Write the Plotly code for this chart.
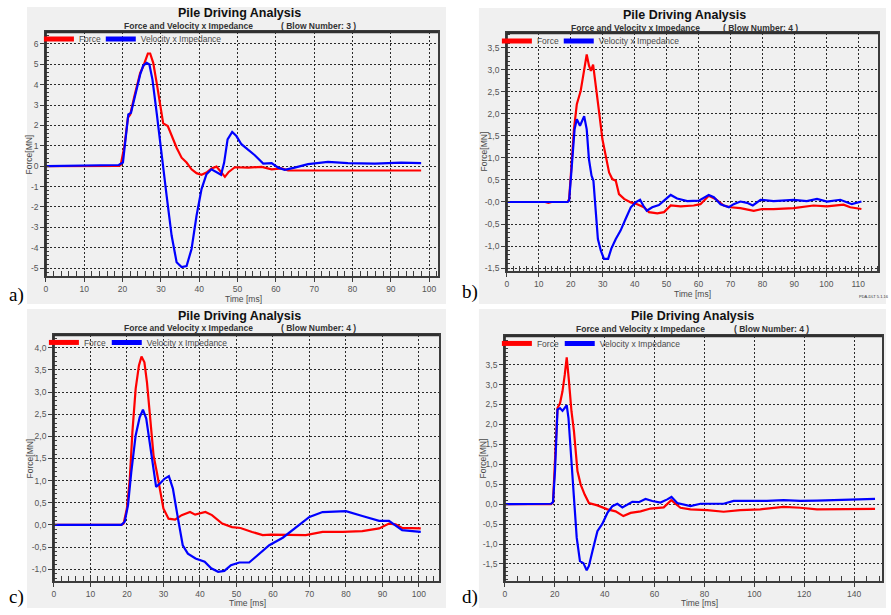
import plotly.graph_objects as go

W, H = 891, 615

# ---------------- data ----------------
# a) Blow number 3
a_t_force = [0, 10, 19, 19.5, 20.5, 21.4, 22.0, 23.1, 24.6, 25.4,
             26.6, 27.2, 28.0, 28.9, 29.8, 30.6, 31.8, 32.8, 34.1, 35.4,
             36.7, 38.0, 39.3, 40.6, 41.9, 43.2, 44.5, 45.8, 46.7, 47.7,
             49.3, 52.8, 56.3, 58.9, 61.5, 63.2, 70, 80, 90, 97.9]
a_force = [0, 0, 0.02, 0.05, 1.0, 2.38, 2.54, 3.44, 4.58, 4.9,
           5.53, 5.53, 5.07, 4.09, 2.95, 2.1, 1.97, 1.48, 0.91, 0.42,
           0.18, -0.15, -0.34, -0.42, -0.31, -0.11, -0.02, -0.31, -0.52, -0.28,
           -0.05, -0.07, -0.03, -0.15, -0.11, -0.2, -0.2, -0.22, -0.22, -0.21]
a_t_vel = [0, 10, 15, 19, 20.1, 20.7, 21.5, 22.2, 23.3, 24.6,
           25.4, 26.3, 27.0, 27.8, 28.9, 30.2, 31.5, 32.8, 34.1, 35.4,
           36.7, 38.0, 39.3, 40.6, 41.9, 43.2, 44.5, 45.7, 46.5, 47.4,
           48.6, 49.7, 51.0, 52.8, 54.5, 56.7, 58.9, 60.6, 62.3, 64.9,
           68.4, 73.6, 78.8, 85.8, 92.7, 97.9]
a_vel = [0, 0.02, 0.05, 0.06, 0.18, 1.3, 2.54, 2.62, 3.44, 4.5,
         4.94, 5.07, 4.99, 4.25, 2.62, 0.5, -1.45, -3.4, -4.71, -4.95,
         -4.9, -4.06, -2.43, -1.12, -0.39, -0.15, -0.28, -0.42, 0.18, 1.32,
         1.68, 1.48, 1.08, 0.8, 0.54, 0.13, 0.15, -0.07, -0.18, -0.07,
         0.1, 0.21, 0.15, 0.13, 0.18, 0.15]
a_xticks = [0, 10, 20, 30, 40, 50, 60, 70, 80, 90, 100]
a_yticks = [-5, -4, -3, -2, -1, 0, 1, 2, 3, 4, 5, 6]
a_yticktext = ["-5", "-4", "-3", "-2", "-1", "0", "1", "2", "3", "4", "5", "6"]

# b) Blow number 4
b_t_force = [0, 12, 13, 14, 19, 19.5, 20.3, 21.0, 21.9, 23.1,
             24.2, 25.0, 25.7, 26.3, 27.0, 27.8, 28.9, 29.9, 30.9, 32.0,
             33.0, 34.1, 35.1, 36.7, 38.8, 40.8, 42.9, 44.5, 47.1, 49.2,
             51.3, 54.4, 58.5, 60.6, 63.2, 65.3, 67.9, 70.0, 73.1, 77.3,
             79.9, 83.5, 89.8, 96.0, 100.2, 105.4, 107.5, 111]
b_force = [0, 0, -0.02, 0, 0, 0.07, 0.9, 1.65, 2.22, 2.52,
           3.0, 3.35, 3.1, 2.98, 3.12, 2.71, 2.03, 1.43, 1.05, 0.67,
           0.52, 0.48, 0.18, 0.07, -0.01, -0.05, -0.12, -0.23, -0.26, -0.23,
           -0.08, -0.1, -0.08, -0.05, 0.14, 0.07, -0.08, -0.12, -0.14, -0.2,
           -0.16, -0.16, -0.14, -0.08, -0.1, -0.06, -0.12, -0.16]
b_t_vel = [0, 19, 19.5, 20.5, 21.2, 21.9, 22.9, 24.2, 25.0, 25.7,
           26.5, 27.1, 27.8, 28.5, 29.4, 30.4, 31.7, 32.7, 34.1, 35.6,
           37.2, 38.8, 40.3, 41.7, 42.7, 43.8, 45.5, 47.6, 49.2, 51.3,
           53.3, 56.5, 60.1, 63.2, 64.8, 66.9, 69.5, 71.0, 73.1, 75.2,
           77.0, 79.4, 83.5, 89.8, 93.9, 97.1, 100.2, 104.4, 108.0, 111]
b_vel = [0, 0, 0.03, 0.9, 1.65, 1.88, 1.73, 1.95, 1.65, 0.97,
         0.6, 0.48, -0.16, -0.84, -1.1, -1.29, -1.29, -1.06, -0.84, -0.65,
         -0.38, -0.12, -0.01, 0.05, -0.08, -0.2, -0.12, -0.07, 0.03, 0.16,
         0.08, 0.02, 0.03, 0.16, 0.11, -0.05, -0.12, -0.05, 0.01, -0.02,
         -0.08, 0.05, 0.02, 0.05, 0.02, 0.07, 0.01, 0.05, -0.05, 0.01]
b_xticks = [0, 10, 20, 30, 40, 50, 60, 70, 80, 90, 100, 110]
b_yticks = [-1.5, -1.0, -0.5, 0.0, 0.5, 1.0, 1.5, 2.0, 2.5, 3.0, 3.5]
b_yticktext = ["-1,5", "-1,0", "-0,5", "-0,0", "0,5", "1,0", "1,5", "2,0", "2,5", "3,0", "3,5"]

# c) Blow number 4
c_t_force = [0, 18.5, 19.1, 20.0, 20.8, 21.5, 22.4, 23.3, 24.0, 24.8,
             25.5, 26.4, 27.3, 28.2, 29.1, 30.0, 31.4, 33.2, 35.0, 37.3,
             38.7, 41.5, 43.3, 46.1, 48.8, 51.1, 54.3, 57.2, 59.5, 62.7,
             66.3, 69.0, 73.6, 79.1, 84.5, 89.1, 91.8, 93.6, 95.4, 97.7,
             100.5]
c_force = [0, 0, 0.03, 0.37, 1.04, 2.09, 3.07, 3.6, 3.8, 3.67,
           3.22, 2.39, 1.57, 1.19, 0.82, 0.37, 0.14, 0.12, 0.22, 0.29,
           0.23, 0.29, 0.22, 0.03, -0.05, -0.07, -0.16, -0.23, -0.22, -0.22,
           -0.23, -0.23, -0.16, -0.16, -0.14, -0.08, 0.03, 0.01, -0.07, -0.07,
           -0.08]
c_t_vel = [0, 18.5, 19.4, 20.3, 21.2, 22.4, 23.5, 24.4, 25.3, 26.2,
           27.1, 28.0, 29.0, 30.3, 31.5, 32.6, 34.0, 35.3, 36.7, 38.8,
           41.3, 43.1, 45.0, 46.7, 48.5, 50.8, 53.5, 56.3, 59.0, 62.7,
           66.3, 70.0, 73.6, 77.2, 80.0, 84.5, 89.1, 91.8, 93.6, 95.4,
           98.2, 100.5]
c_vel = [0, 0, 0.07, 0.44, 1.19, 2.02, 2.43, 2.6, 2.4, 1.87,
         1.27, 0.86, 0.93, 1.04, 1.1, 0.82, 0.14, -0.46, -0.65, -0.76,
         -0.83, -0.98, -1.06, -1.04, -0.91, -0.85, -0.85, -0.65, -0.46, -0.29,
         -0.05, 0.18, 0.29, 0.31, 0.31, 0.2, 0.09, 0.09, -0.01, -0.12,
         -0.14, -0.16]
c_xticks = [0, 10, 20, 30, 40, 50, 60, 70, 80, 90, 100]
c_yticks = [-1.0, -0.5, 0.0, 0.5, 1.0, 1.5, 2.0, 2.5, 3.0, 3.5, 4.0]
c_yticktext = ["-1,0", "-0,5", "0,0", "0,5", "1,0", "1,5", "2,0", "2,5", "3,0", "3,5", "4,0"]

# d) Blow number 4
d_t_force = [0, 18.5, 19.3, 20.1, 21.1, 22.1, 23.1, 24.0, 24.8, 25.7,
             26.7, 27.7, 29.1, 30.4, 32.0, 33.7, 37.1, 41.1, 44.4, 47.5,
             50.4, 54.4, 58.4, 63.7, 66.7, 70.4, 74.4, 81.1, 87.7, 94.4,
             102.4, 111.7, 118.4, 125.1, 138.4, 148.4]
d_force = [0, 0, 0.05, 0.99, 2.41, 2.53, 2.83, 3.24, 3.68, 3.08,
           2.33, 1.83, 0.83, 0.49, 0.24, 0.03, -0.03, -0.13, -0.18, -0.3,
           -0.22, -0.18, -0.11, -0.08, 0.1, -0.09, -0.13, -0.15, -0.19, -0.15,
           -0.13, -0.07, -0.09, -0.13, -0.12, -0.12]
d_t_vel = [0, 18.5, 19.3, 20.1, 21.1, 22.1, 23.1, 24.0, 24.8, 25.5,
           26.4, 27.7, 28.8, 30.1, 31.5, 32.8, 33.7, 35.1, 37.1, 39.1,
           41.1, 43.1, 45.1, 47.1, 49.1, 51.1, 53.7, 56.4, 59.1, 62.4,
           65.1, 66.8, 69.1, 72.4, 74.4, 78.4, 83.7, 87.7, 91.7, 105.1,
           111.7, 118.4, 125.1, 138.4, 148.4]
d_vel = [0, 0.01, 0.05, 0.83, 2.37, 2.41, 2.34, 2.42, 2.48, 2.16,
         1.33, 0.16, -0.84, -1.43, -1.48, -1.66, -1.55, -1.18, -0.68, -0.49,
         -0.22, -0.05, 0.01, -0.08, -0.01, 0.06, 0.05, 0.13, 0.08, 0.04,
         0.12, 0.18, 0.03, -0.03, -0.05, 0.01, 0.02, 0.01, 0.08, 0.08,
         0.1, 0.08, 0.09, 0.12, 0.13]
d_xticks = [0, 20, 40, 60, 80, 100, 120, 140]
d_yticks = [-1.5, -1.0, -0.5, 0.0, 0.5, 1.0, 1.5, 2.0, 2.5, 3.0, 3.5]
d_yticktext = ["-1,5", "-1,0", "-0,5", "0,0", "0,5", "1,0", "1,5", "2,0", "2,5", "3,0", "3,5"]

title_text = "Pile Driving Analysis"
subtitle_text = "Force and Velocity x Impedance"
blow_numbers = [3, 4, 4, 4]
series_names = ["Force", "Velocity x Impedance"]
x_title = "Time [ms]"
y_title = "Force[MN]"
panel_letters = ["a)", "b)", "c)", "d)"]

# ---------------- layout geometry (pixels) ----------------
panels = [
    dict(plot=(44, 32, 437, 277), bg=(25, 7, 445, 305), xr=[0, 102.3], yr=[-5.39, 6.59],
         xt=a_xticks, yt=a_yticks, ytt=a_yticktext, xminor=2, yminor=0.2,
         data=(a_t_force, a_force, a_t_vel, a_vel),
         title=(238, 13), subl=(187, 26), subr=(317, 26), xl=(242, 300), yl=(28, 155), letter=(15, 296),
         leg=((37, 24.5), (99, 24.5))),
    dict(plot=(506, 33, 878, 272), bg=(478, 8, 886, 305), xr=[0, 116.2], yr=[-1.57, 3.84],
         xt=b_xticks, yt=b_yticks, ytt=b_yticktext, xminor=2, yminor=0.1,
         data=(b_t_force, b_force, b_t_vel, b_vel),
         title=(684, 15), subl=(635, 28), subr=(760, 28), xl=(692, 295), yl=(483, 152), letter=(469, 293),
         leg=((496, 26.7), (558, 26.7))),
    dict(plot=(52, 336, 438, 583), bg=(25, 310, 445, 610), xr=[0, 105.5], yr=[-1.27, 4.29],
         xt=c_xticks, yt=c_yticks, ytt=c_yticktext, xminor=2, yminor=0.1,
         data=(c_t_force, c_force, c_t_vel, c_vel),
         title=(238, 317), subl=(187, 329), subr=(317, 329), xl=(246, 605), yl=(28, 460), letter=(15, 599),
         leg=((42, 329), (105, 329))),
    dict(plot=(504, 337, 882, 583), bg=(478, 310, 886, 610), xr=[0, 151.2], yr=[-1.93, 4.22],
         xt=d_xticks, yt=d_yticks, ytt=d_yticktext, xminor=5, yminor=0.1,
         data=(d_t_force, d_force, d_t_vel, d_vel),
         title=(692, 317), subl=(640, 330), subr=(771, 330), xl=(699, 605), yl=(482, 460), letter=(469, 599),
         leg=((496, 330), (559, 330))),
]

def fx(x):
    return x / W

def fy(y):
    return 1 - y / H

RED = "#ff0000"
BLUE = "#0000ff"
FONT = "Liberation Sans, Arial, sans-serif"
AXC = "#3c3c3c"

fig = go.Figure()
shapes = []
annotations = []
layout_axes = {}

for i, p in enumerate(panels):
    n = i + 1
    sfx = "" if n == 1 else str(n)
    xname, yname = "x" + sfx, "y" + sfx
    tf, f, tv, v = p["data"]

    fig.add_trace(go.Scatter(x=tf, y=f, xaxis=xname, yaxis=yname, mode="lines",
                             line=dict(color=RED, width=2.2), showlegend=False, hoverinfo="skip"))
    fig.add_trace(go.Scatter(x=tv, y=v, xaxis=xname, yaxis=yname, mode="lines",
                             line=dict(color=BLUE, width=2.2), showlegend=False, hoverinfo="skip"))
    # legend entries with thick swatches, each in its own positioned legend
    for k, (name, col) in enumerate(zip(series_names, [RED, BLUE])):
        idx = 2 * i + k + 1
        legname = "legend" if idx == 1 else "legend%d" % idx
        fig.add_trace(go.Scatter(x=[None], y=[None], xaxis=xname, yaxis=yname, mode="lines",
                                 name=name, line=dict(color=col, width=5), legend=legname,
                                 showlegend=True))
        lx, ly = p["leg"][k]
        layout_axes[legname] = dict(x=fx(lx), y=fy(ly), xanchor="left", yanchor="top",
                                    orientation="h", bgcolor="rgba(0,0,0,0)", borderwidth=0,
                                    font=dict(family=FONT, size=8.5, color="#4a4a4a"),
                                    itemwidth=30)

    l, t, r, b = p["plot"]
    common = dict(showline=True, mirror=True, linecolor=AXC, linewidth=1.5,
                  ticks="outside", ticklen=4, tickcolor=AXC, tickwidth=1,
                  tickfont=dict(family=FONT, size=8.5, color="#555555"),
                  showgrid=True, gridcolor="#2a2a2a", gridwidth=1, griddash="2px,2px",
                  zeroline=False, fixedrange=True)
    layout_axes["xaxis" + sfx] = dict(
        domain=[fx(l), fx(r)], range=p["xr"], anchor=yname,
        tickmode="array", tickvals=p["xt"], ticktext=[str(x) for x in p["xt"]],
        minor=dict(dtick=p["xminor"], tick0=0, ticks="inside", ticklen=5, tickcolor=AXC, showgrid=False),
        **common)
    layout_axes["yaxis" + sfx] = dict(
        domain=[fy(b), fy(t)], range=p["yr"], anchor=xname,
        tickmode="array", tickvals=p["yt"], ticktext=p["ytt"],
        minor=dict(dtick=p["yminor"], tick0=0, ticks="inside", ticklen=3, tickcolor=AXC, showgrid=False),
        **common)

    # grey panel background
    bl, bt, br, bb = p["bg"]
    shapes.append(dict(type="rect", xref="paper", yref="paper", x0=fx(bl), x1=fx(br), y0=fy(bb), y1=fy(bt),
                       fillcolor="#f0f0f0", line=dict(width=0), layer="below"))
    # darker top/left frame edges
    shapes.append(dict(type="line", xref="paper", yref="paper", x0=fx(l), x1=fx(r), y0=fy(t), y1=fy(t),
                       line=dict(color="#303030", width=2.5)))
    shapes.append(dict(type="line", xref="paper", yref="paper", x0=fx(l), x1=fx(l), y0=fy(b), y1=fy(t),
                       line=dict(color="#303030", width=2)))

    def ann(pos, text, size, color="#000000", family=FONT, angle=0, xanchor="center"):
        annotations.append(dict(x=fx(pos[0]), y=fy(pos[1]), xref="paper", yref="paper", text=text,
                                showarrow=False, xanchor=xanchor, yanchor="middle", textangle=angle,
                                font=dict(family=family, size=size, color=color)))

    ann(p["title"], "<b>" + title_text + "</b>", 12.5, "#111111")
    ann(p["subl"], "<b>" + subtitle_text + "</b>", 8.5, "#333333")
    ann(p["subr"], "<b>( Blow Number: %d )</b>" % blow_numbers[i], 8.5, "#333333")
    ann(p["xl"], x_title, 8.5, "#4a4a4a")
    ann(p["yl"], y_title, 8.5, "#4a4a4a", angle=-90)
    ann(p["letter"], panel_letters[i], 19, "#000000", family="Liberation Serif, Times New Roman, serif")

annotations.append(dict(x=fx(874), y=fy(297), xref="paper", yref="paper", text="PDA-DLT 5.1.16",
                        showarrow=False, xanchor="center", yanchor="middle",
                        font=dict(family=FONT, size=4, color="#333333")))

fig.update_layout(
    width=W, height=H, margin=dict(l=0, r=0, t=0, b=0),
    paper_bgcolor="white", plot_bgcolor="white",
    shapes=shapes, annotations=annotations, **layout_axes,
)

fig.write_html("out.html", config={"displayModeBar": False},
               post_script="document.body.style.margin='0px';")
